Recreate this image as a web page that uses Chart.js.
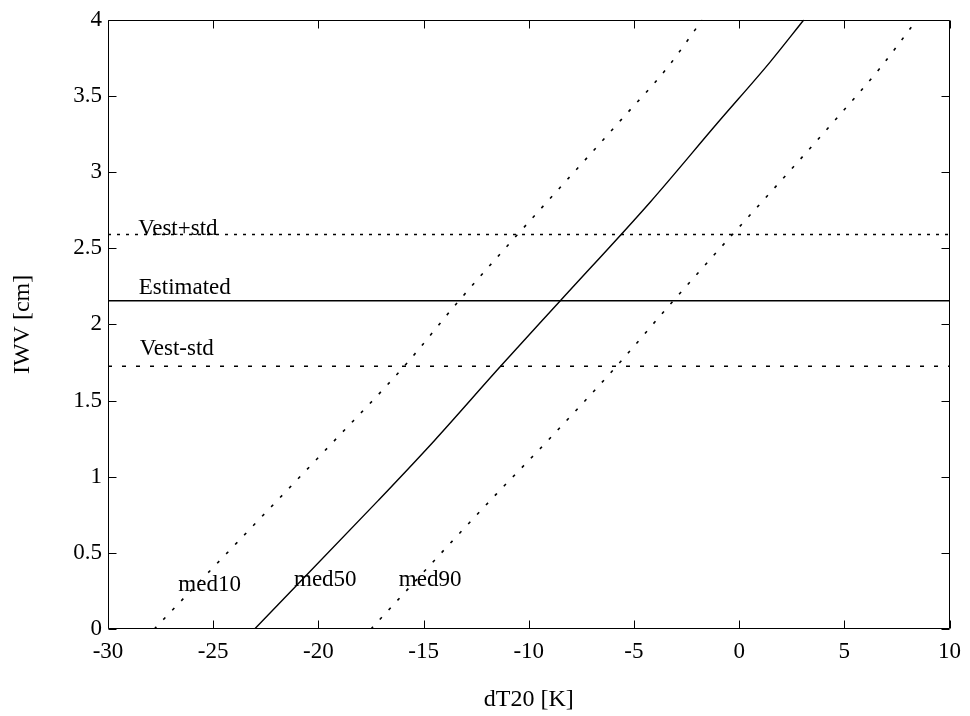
<!DOCTYPE html>
<html lang="en">
<head>
<meta charset="utf-8">
<title>IWV vs dT20</title>
<script src="https://cdn.jsdelivr.net/npm/chart.js@4.4.1/dist/chart.umd.min.js"></script>
<style>
    html, body { margin: 0; padding: 0; background: #fff; }
    #wrap { width: 970px; height: 716px; }
</style>
</head>
<body>
<div id="wrap"><canvas id="iwvChart" width="970" height="716"></canvas></div>
<script>
// axis ticks
const xTicks = [-30, -25, -20, -15, -10, -5, 0, 5, 10];
const yTicks = [0, 0.5, 1, 1.5, 2, 2.5, 3, 3.5, 4];

// median curves: dT20 [K] against IWV [cm]
const med10X = [-27.8, -21.6, -19.34, -15.92, -13.32, -5.59, -3.41, -1.75];
const med10Y = [0, 0.895, 1.222, 1.725, 2.155, 3.346, 3.686, 4.0];
const med50X = [-23.03, -17.16, -14.5, -11.34, -8.5, -4.22, -1.0, 1.45, 3.08];
const med50Y = [0, 0.843, 1.235, 1.725, 2.155, 2.804, 3.327, 3.719, 4.0];
const med90X = [-17.5, -11.52, -9.24, -5.83, -3.13, 4.55, 6.68, 8.45];
const med90Y = [0, 0.889, 1.216, 1.725, 2.155, 3.34, 3.68, 4.0];

// estimated IWV and its +/- std band
const levelNames = ['Vest+std', 'Estimated', 'Vest-std'];
const levelValues = [2.59, 2.155, 1.725];

// in-plot text labels, centred on data coordinates
const labelTexts = ['Vest+std', 'Estimated', 'Vest-std', 'med10', 'med50', 'med90'];
const labelX = [-26.68, -26.35, -26.73, -25.17, -19.67, -14.69];
const labelY = [2.627, 2.242, 1.837, 0.288, 0.32, 0.32];

const fontFamily = "'Liberation Serif', 'Times New Roman', serif";
const tickLength = 8;

Chart.defaults.font.family = fontFamily;
Chart.defaults.color = '#000';

// box round the plot area with inward ticks on all four sides
const framePlugin = {
    id: 'frame',
    afterDatasetsDraw(chartRef) {
        const { ctx, chartArea: area, scales: { x, y } } = chartRef;
        const left = Math.round(area.left) + 0.5;
        const right = Math.round(area.right) - 0.5;
        const top = Math.round(area.top) + 0.5;
        const bottom = Math.round(area.bottom) - 0.5;

        ctx.save();
        ctx.strokeStyle = '#000';
        ctx.lineWidth = 1;
        ctx.beginPath();
        ctx.rect(left, top, right - left, bottom - top);

        xTicks.forEach((value) => {
            const px = Math.round(x.getPixelForValue(value)) + 0.5;
            ctx.moveTo(px, bottom);
            ctx.lineTo(px, bottom - tickLength);
            ctx.moveTo(px, top);
            ctx.lineTo(px, top + tickLength);
        });
        yTicks.forEach((value) => {
            const py = Math.round(y.getPixelForValue(value)) + 0.5;
            ctx.moveTo(left, py);
            ctx.lineTo(left + tickLength, py);
            ctx.moveTo(right, py);
            ctx.lineTo(right - tickLength, py);
        });
        ctx.stroke();
        ctx.restore();
    },
};

const textPlugin = {
    id: 'curveLabels',
    afterDatasetsDraw(chartRef) {
        const { ctx, scales: { x, y } } = chartRef;
        ctx.save();
        ctx.fillStyle = '#000';
        ctx.font = `23px ${fontFamily}`;
        ctx.textAlign = 'center';
        ctx.textBaseline = 'middle';
        labelTexts.forEach((text, i) => {
            ctx.fillText(text, x.getPixelForValue(labelX[i]), y.getPixelForValue(labelY[i]));
        });
        ctx.restore();
    },
};

const chart = createChart();

function toPoints(xs, ys) {
    return xs.map((x, i) => ({ x, y: ys[i] }));
}

function curveDataset(label, xs, ys, dash) {
    return {
        label,
        data: toPoints(xs, ys),
        showLine: true,
        borderColor: '#000',
        borderWidth: dash ? 1.6 : 1.4,
        borderDash: dash || [],
        pointRadius: 0,
        cubicInterpolationMode: 'monotone',
    };
}

function levelDataset(index, dash) {
    const value = levelValues[index];
    return curveDataset(levelNames[index], [xTicks[0], xTicks[xTicks.length - 1]], [value, value], dash);
}

function createChart() {
    const canvas = document.getElementById('iwvChart');
    if (!canvas || typeof Chart === 'undefined') {
        return null;
    }

    return new Chart(canvas.getContext('2d'), {
        type: 'scatter',
        data: {
            datasets: [
                levelDataset(0, [3, 6]),
                levelDataset(1, null),
                levelDataset(2, [4, 10]),
                curveDataset('med10', med10X, med10Y, [3, 10]),
                curveDataset('med50', med50X, med50Y, null),
                curveDataset('med90', med90X, med90Y, [3, 10]),
            ],
        },
        options: {
            responsive: false,
            animation: false,
            devicePixelRatio: 1,
            layout: {
                padding: { top: 17, right: 18, left: 0, bottom: 0 },
            },
            plugins: {
                legend: { display: false },
                tooltip: { enabled: false },
            },
            scales: {
                x: {
                    type: 'linear',
                    min: xTicks[0],
                    max: xTicks[xTicks.length - 1],
                    afterBuildTicks(scale) {
                        scale.ticks = xTicks.map((value) => ({ value }));
                    },
                    afterFit(scale) {
                        scale.height = 87;
                    },
                    grid: { display: false, drawTicks: false },
                    border: { display: false },
                    ticks: {
                        padding: 9,
                        maxRotation: 0,
                        font: { size: 23 },
                        callback: (value) => String(value),
                    },
                    title: {
                        display: true,
                        text: 'dT20 [K]',
                        font: { size: 24 },
                        padding: { top: 0, bottom: 2 },
                    },
                },
                y: {
                    type: 'linear',
                    min: yTicks[0],
                    max: yTicks[yTicks.length - 1],
                    afterBuildTicks(scale) {
                        scale.ticks = yTicks.map((value) => ({ value }));
                    },
                    afterFit(scale) {
                        scale.width = 108;
                    },
                    grid: { display: false, drawTicks: false },
                    border: { display: false },
                    ticks: {
                        padding: 6,
                        font: { size: 23 },
                        callback: (value) => String(value),
                    },
                    title: {
                        display: true,
                        text: 'IWV [cm]',
                        font: { size: 24 },
                        padding: { top: 8, bottom: 0 },
                    },
                },
            },
        },
        plugins: [framePlugin, textPlugin],
    });
}
</script>
</body>
</html>
